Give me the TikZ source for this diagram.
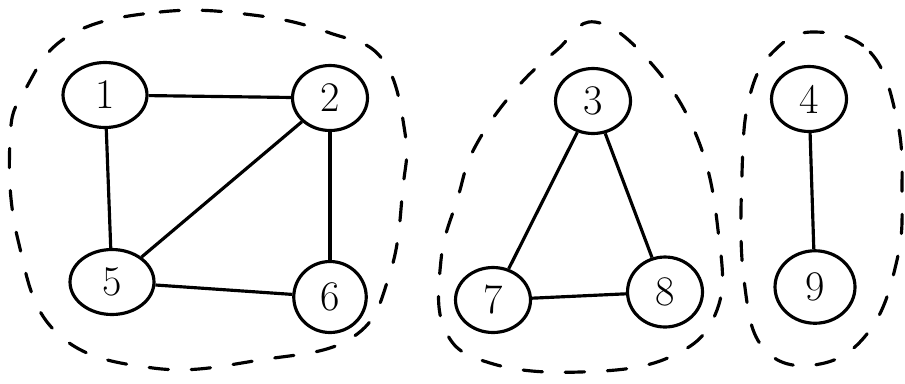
\documentclass[tikz,border=0pt]{standalone}
\usepackage{tikz}
\usetikzlibrary{shapes.geometric}

\begin{document}
\begin{tikzpicture}[x=0.02cm,y=-0.02cm,line width=1.8pt,
  vtx/.style={draw,ellipse,minimum width=1.5cm,minimum height=1.3cm,inner sep=0pt,font=\fontsize{24}{24}\selectfont},
  blob/.style={dash pattern=on 11pt off 13pt,line cap=round}]
\useasboundingbox (0,0) rectangle (905,383);
% first component
\node[vtx,minimum width=1.68cm] (v1) at (105,95) {1};
\node[vtx] (v2) at (330,98) {2};
\node[vtx,minimum width=1.68cm] (v5) at (112,282) {5};
\node[vtx,minimum width=1.45cm,minimum height=1.42cm] (v6) at (330,297) {6};
\draw (v1) -- (v2);
\draw (v1) -- (v5);
\draw (v2) -- (v5);
\draw (v2) -- (v6);
\draw (v5) -- (v6);
\draw[blob] plot[smooth cycle,tension=0.7] coordinates {(70,35) (160,12) (253,15) (330,33) (383,60) (405,133) (403,187) (390,273) (353,337) (260,360) (153,368) (57,333) (18,240) (10,140) (25,90)};
% second component
\node[vtx] (v3) at (593,101) {3};
\node[vtx] (v7) at (493,300) {7};
\node[vtx,minimum height=1.4cm] (v8) at (665,292) {8};
\draw (v3) -- (v7);
\draw (v3) -- (v8);
\draw (v7) -- (v8);
\draw[blob] plot[smooth cycle,tension=0.7] coordinates {(595,22) (650,62) (697,137) (718,230) (717,310) (670,357) (580,372) (490,363) (445,330) (441,260) (458,197) (475,147) (515,90) (557,50)};
% third component
\node[vtx] (v4) at (809,99) {4};
\node[vtx,minimum width=1.6cm,minimum height=1.45cm] (v9) at (815,287) {9};
\draw (v4) -- (v9);
\draw[blob] plot[smooth cycle,tension=0.7] coordinates {(815,32) (870,52) (897,120) (902,193) (897,260) (870,330) (820,364) (765,350) (744,280) (742,173) (750,95) (775,50)};
\end{tikzpicture}
\end{document}
